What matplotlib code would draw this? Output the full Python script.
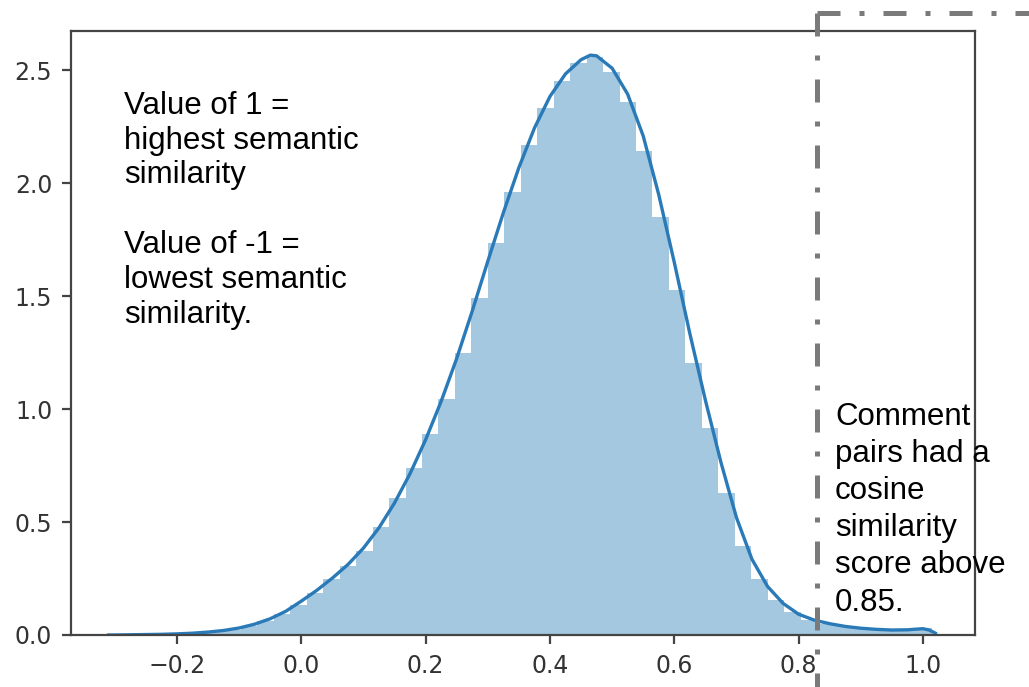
import numpy as np
import matplotlib.pyplot as plt
from matplotlib.lines import Line2D

# histogram (density), 50 equal bins
bin_start = -0.309
bin_width = 0.02648
bar_heights = [0.000, 0.001, 0.002, 0.004, 0.006, 0.009, 0.015, 0.024, 0.039, 0.060,
               0.092, 0.135, 0.187, 0.247, 0.305, 0.372, 0.480, 0.605, 0.740, 0.889,
               1.045, 1.247, 1.494, 1.734, 1.964, 2.170, 2.336, 2.452, 2.534, 2.558,
               2.492, 2.360, 2.145, 1.852, 1.529, 1.205, 0.917, 0.631, 0.396, 0.249,
               0.156, 0.100, 0.068, 0.050, 0.039, 0.030, 0.025, 0.022, 0.023, 0.029]

# kde curve
kde_x = [-0.310, -0.300, -0.275, -0.250, -0.225, -0.200, -0.175, -0.150, -0.125, -0.100,
         -0.075, -0.050, -0.025, 0.000, 0.025, 0.050, 0.075, 0.100, 0.125, 0.150,
         0.175, 0.200, 0.225, 0.250, 0.275, 0.300, 0.325, 0.350, 0.375, 0.400,
         0.425, 0.450, 0.465, 0.475, 0.500, 0.525, 0.550, 0.575, 0.600, 0.625,
         0.650, 0.675, 0.700, 0.725, 0.750, 0.775, 0.800, 0.825, 0.850, 0.875,
         0.900, 0.925, 0.950, 0.975, 1.000, 1.010, 1.020]
kde_y = [0.000, 0.000, 0.001, 0.002, 0.003, 0.005, 0.008, 0.013, 0.020, 0.031,
         0.048, 0.072, 0.105, 0.150, 0.198, 0.252, 0.312, 0.385, 0.475, 0.585,
         0.715, 0.865, 1.035, 1.225, 1.435, 1.655, 1.870, 2.070, 2.245, 2.385,
         2.485, 2.548, 2.568, 2.565, 2.510, 2.395, 2.210, 1.950, 1.650, 1.335,
         1.040, 0.765, 0.520, 0.335, 0.215, 0.140, 0.092, 0.066, 0.050, 0.038,
         0.030, 0.025, 0.022, 0.023, 0.028, 0.022, 0.008]

xticks = [-0.2, 0.0, 0.2, 0.4, 0.6, 0.8, 1.0]
yticks = [0.0, 0.5, 1.0, 1.5, 2.0, 2.5]

note_left = "Value of 1 =\nhighest semantic\nsimilarity\n\nValue of -1 =\nlowest semantic\nsimilarity."
note_right = "Comment\npairs had a\ncosine\nsimilarity\nscore above\n0.85."

fig = plt.figure(figsize=(10.29, 6.87), dpi=100)
ax = fig.add_axes([0.069, 0.0757, 0.8785, 0.8792])

edges = bin_start + bin_width * np.arange(len(bar_heights))
ax.bar(edges, bar_heights, width=bin_width, align='edge', color='#1f77b4',
       alpha=0.4, linewidth=0)
ax.plot(kde_x, kde_y, color='#2a7ab8', lw=2.4)

ax.set_xlim(-0.3705, 1.0837)
ax.set_ylim(0, 2.675)
ax.set_xticks(xticks)
ax.set_yticks(yticks)
ax.set_xticklabels([f'{t:.1f}'.replace('-', '\u2212') for t in xticks])
ax.set_yticklabels([f'{t:.1f}' for t in yticks])

for s in ax.spines.values():
    s.set_color('#444444')
    s.set_linewidth(1.6)
ax.tick_params(labelsize=17, colors='#444444', labelcolor='#333333',
               length=6.5, width=1.6, pad=7)

fig.text(0.1205, 0.868, note_left, fontsize=22.5, family='Liberation Sans',
         va='top', ha='left', linespacing=1.21)
fig.text(0.8115, 0.415, note_right, fontsize=22.5, family='Liberation Sans',
         va='top', ha='left', linespacing=1.31)

# dash-dot frame sticking out of the chart
dash = (0, (4.6, 3.8, 1.0, 3.8))
fig.add_artist(Line2D([0.794, 0.794], [0.981, -0.01], color='#7a7a7a', lw=3.6,
                      linestyle=dash, dash_capstyle='butt'))
fig.add_artist(Line2D([0.794, 1.01], [0.981, 0.981], color='#7a7a7a', lw=3.6,
                      linestyle=dash, dash_capstyle='butt'))

fig.savefig('out.png', dpi=100)
